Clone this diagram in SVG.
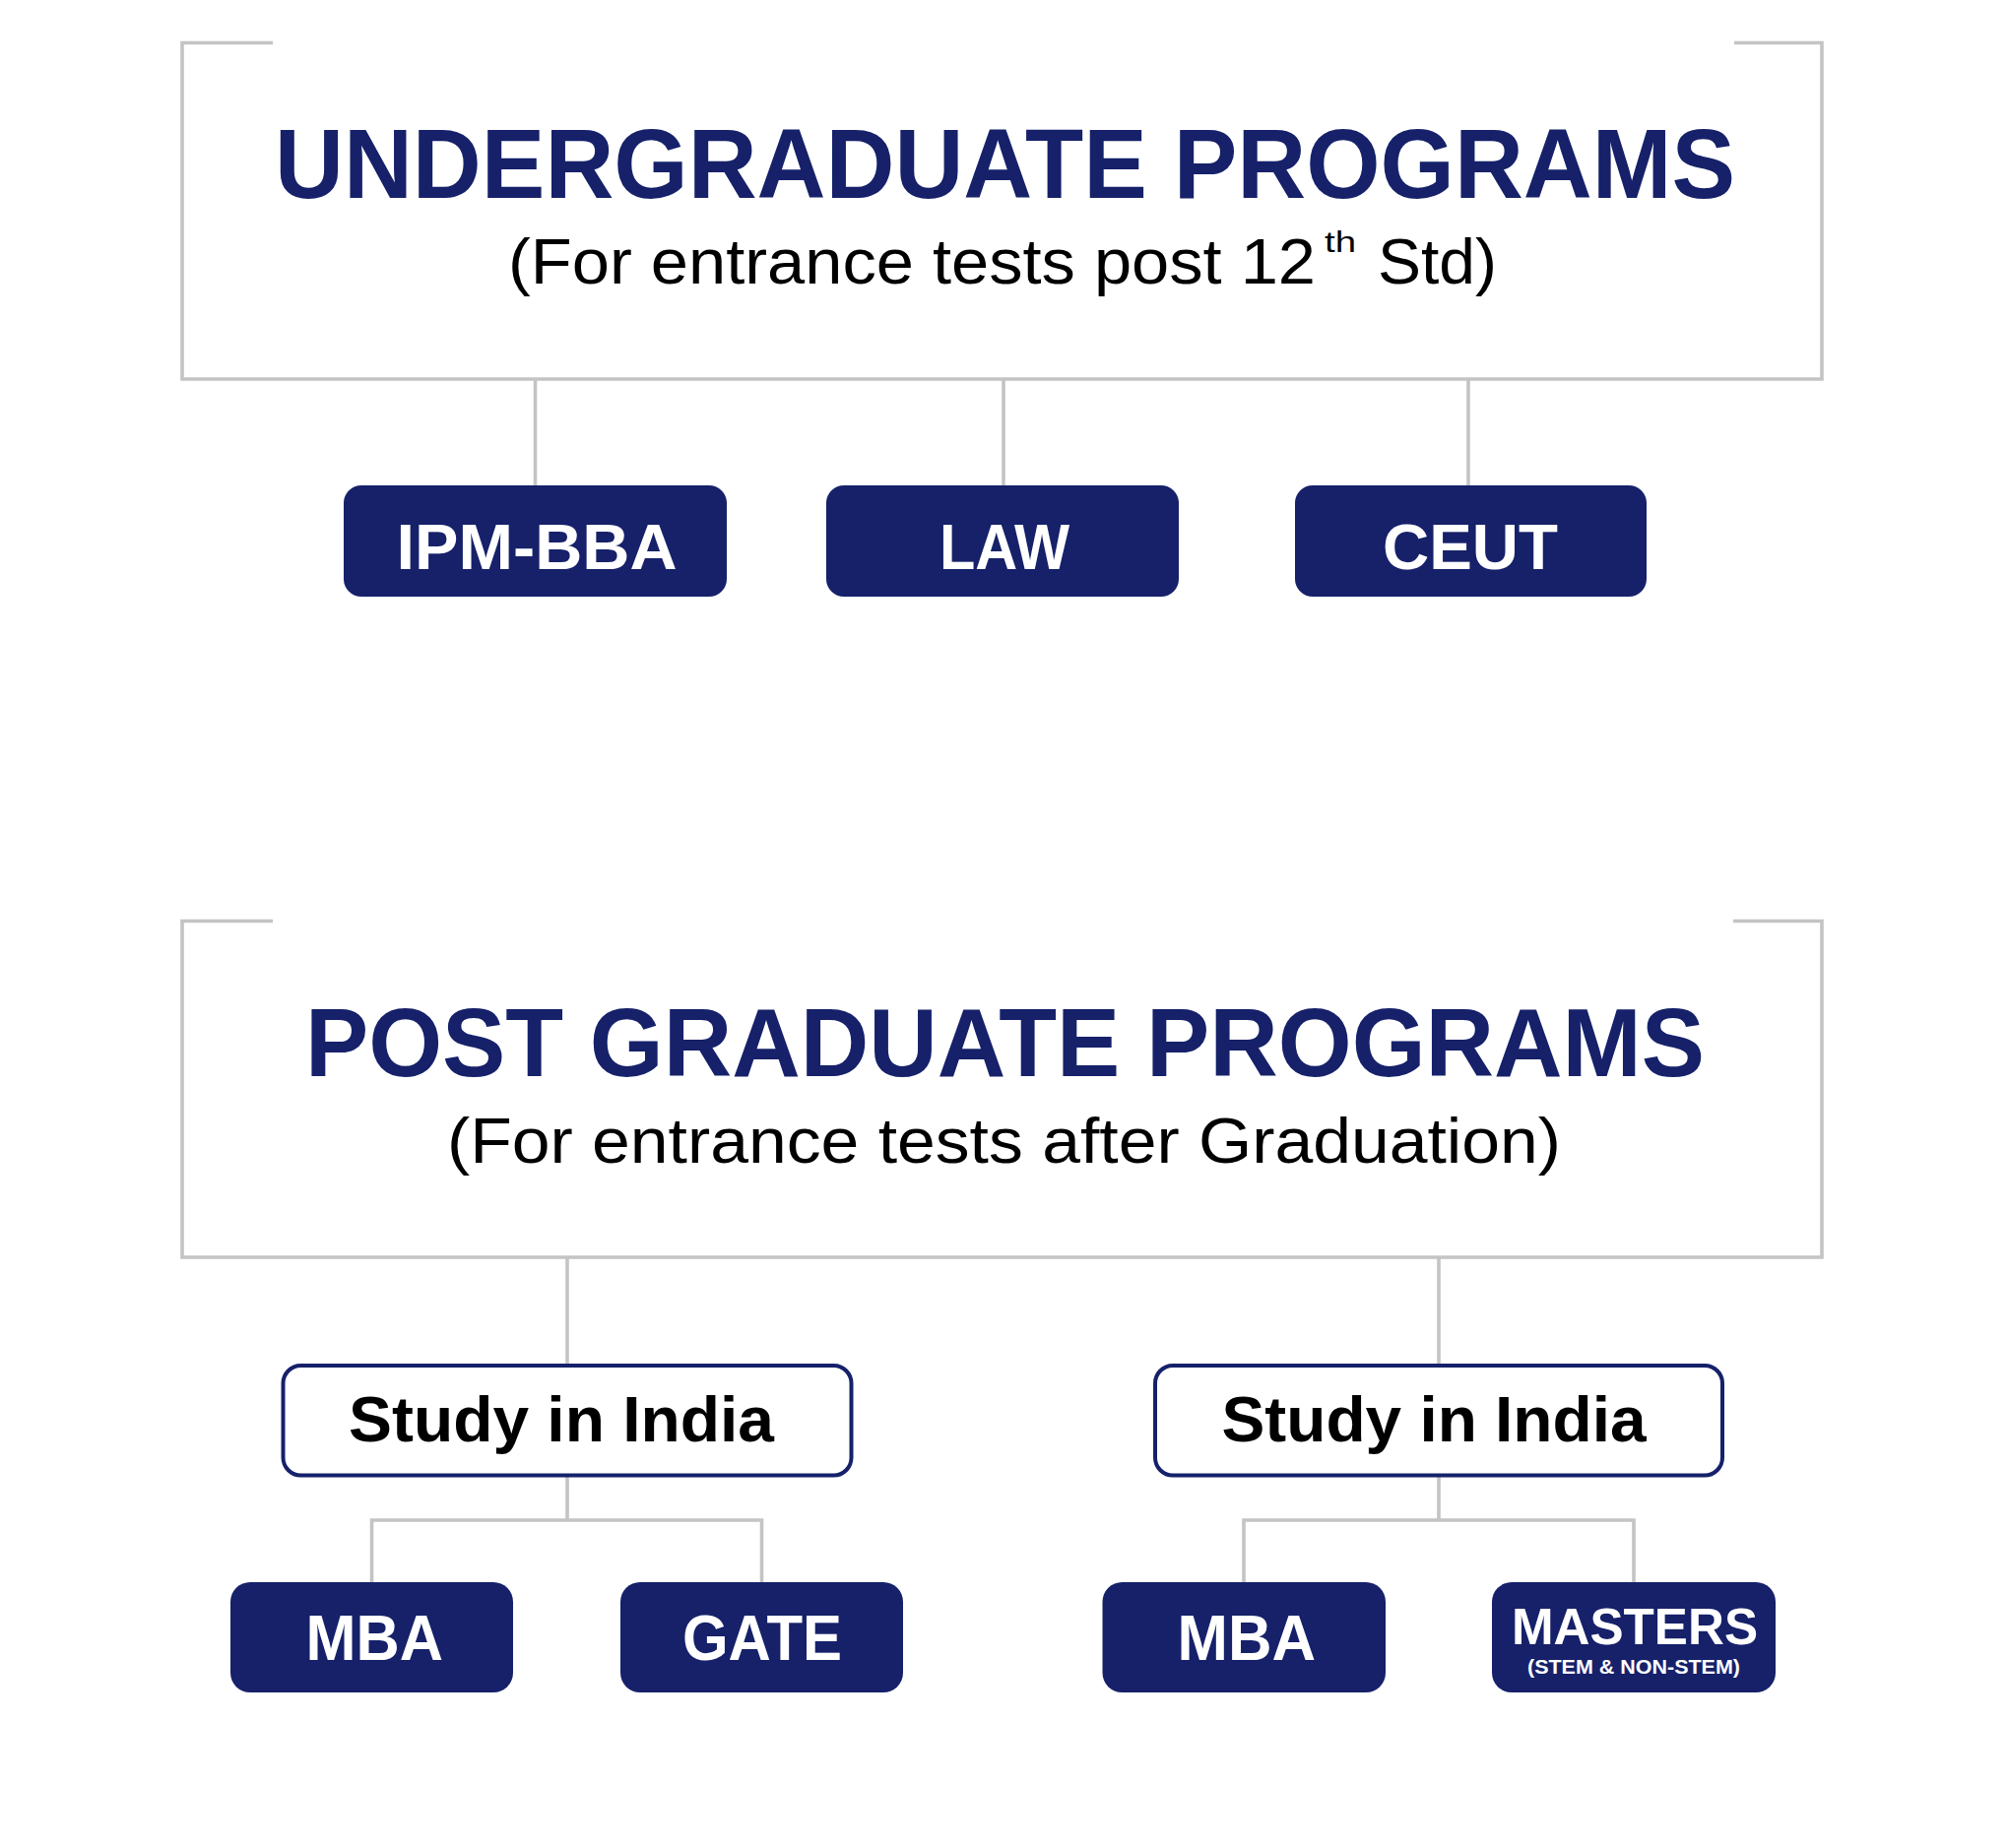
<svg xmlns="http://www.w3.org/2000/svg" width="2038" height="1877" viewBox="0 0 2038 1877">
<style>
.frame{fill:none;stroke:#c4c4c4;stroke-width:3.6}
.conn{fill:none;stroke:#c4c4c4;stroke-width:3.6}
.box{fill:#16216a}
.obox{fill:#ffffff;stroke:#16216a;stroke-width:4}
.title{font-family:"Liberation Sans",Arial,sans-serif;font-weight:bold;fill:#16216a}
.sub{font-family:"Liberation Sans",Arial,sans-serif;font-weight:normal;fill:#000000}
.btxt{font-family:"Liberation Sans",Arial,sans-serif;font-weight:bold;fill:#ffffff}
.stxt{font-family:"Liberation Sans",Arial,sans-serif;font-weight:bold;fill:#000000}
</style>
<rect width="2038" height="1877" fill="#ffffff"/>
<g id="connectors">
<line class="conn" x1="543.5" y1="385" x2="543.5" y2="494"/>
<line class="conn" x1="1019" y1="385" x2="1019" y2="494"/>
<line class="conn" x1="1491" y1="385" x2="1491" y2="494"/>
<line class="conn" x1="576" y1="1277" x2="576" y2="1386"/>
<line class="conn" x1="1461" y1="1277" x2="1461" y2="1386"/>
<path class="conn" d="M576,1500 V1544 M377.5,1608 V1544 H773.5 V1608"/>
<path class="conn" d="M1461,1500 V1544 M1263,1608 V1544 H1659 V1608"/>
</g>
<g id="undergraduate">
<path class="frame" d="M277,43.5 H185 V385 H1850 V43.5 H1761"/>
<text class="title" x="279" y="201" font-size="100" textLength="1483" lengthAdjust="spacingAndGlyphs">UNDERGRADUATE PROGRAMS</text>
<text class="sub" y="288" font-size="65"><tspan x="516" textLength="820" lengthAdjust="spacingAndGlyphs">(For entrance tests post 12</tspan><tspan x="1345" y="256" font-size="29" textLength="32" lengthAdjust="spacingAndGlyphs">th</tspan><tspan x="1399" y="288" textLength="121" lengthAdjust="spacingAndGlyphs">Std)</tspan></text>
</g>
<g id="ipm-bba">
<rect class="box" x="349" y="493" width="389" height="113" rx="18"/>
<text class="btxt" x="402.5" y="578" font-size="64" textLength="285" lengthAdjust="spacingAndGlyphs">IPM-BBA</text>
</g>
<g id="law">
<rect class="box" x="839" y="493" width="358" height="113" rx="18"/>
<text class="btxt" x="954" y="578" font-size="64" textLength="132" lengthAdjust="spacingAndGlyphs">LAW</text>
</g>
<g id="ceut">
<rect class="box" x="1315" y="493" width="357" height="113" rx="18"/>
<text class="btxt" x="1404" y="578" font-size="64" textLength="178" lengthAdjust="spacingAndGlyphs">CEUT</text>
</g>
<g id="postgraduate">
<path class="frame" d="M277,935.5 H185 V1277 H1850 V935.5 H1760"/>
<text class="title" x="310" y="1093" font-size="99" textLength="1421" lengthAdjust="spacingAndGlyphs">POST GRADUATE PROGRAMS</text>
<text class="sub" x="454" y="1180.5" font-size="65" textLength="1131" lengthAdjust="spacingAndGlyphs">(For entrance tests after Graduation)</text>
</g>
<g id="study-india-1">
<rect class="obox" x="287.5" y="1387" width="577" height="111.5" rx="18"/>
<text class="stxt" x="354" y="1464" font-size="65" textLength="432" lengthAdjust="spacingAndGlyphs">Study in India</text>
</g>
<g id="study-india-2">
<rect class="obox" x="1173" y="1387" width="576" height="111.5" rx="18"/>
<text class="stxt" x="1240.5" y="1464" font-size="65" textLength="431" lengthAdjust="spacingAndGlyphs">Study in India</text>
</g>
<g id="mba-1">
<rect class="box" x="234" y="1607" width="287" height="112" rx="20"/>
<text class="btxt" x="310.5" y="1686" font-size="65" textLength="139.5" lengthAdjust="spacingAndGlyphs">MBA</text>
</g>
<g id="gate">
<rect class="box" x="630" y="1607" width="287" height="112" rx="20"/>
<text class="btxt" x="693" y="1686" font-size="65" textLength="162" lengthAdjust="spacingAndGlyphs">GATE</text>
</g>
<g id="mba-2">
<rect class="box" x="1119.5" y="1607" width="287.5" height="112" rx="20"/>
<text class="btxt" x="1195.5" y="1686" font-size="65" textLength="140.5" lengthAdjust="spacingAndGlyphs">MBA</text>
</g>
<g id="masters">
<rect class="box" x="1515" y="1607" width="288" height="112" rx="20"/>
<text class="btxt" x="1535" y="1670" font-size="52" textLength="250" lengthAdjust="spacingAndGlyphs">MASTERS</text>
<text class="btxt" x="1551" y="1700" font-size="21" textLength="216" lengthAdjust="spacingAndGlyphs">(STEM &amp; NON-STEM)</text>
</g>
</svg>
